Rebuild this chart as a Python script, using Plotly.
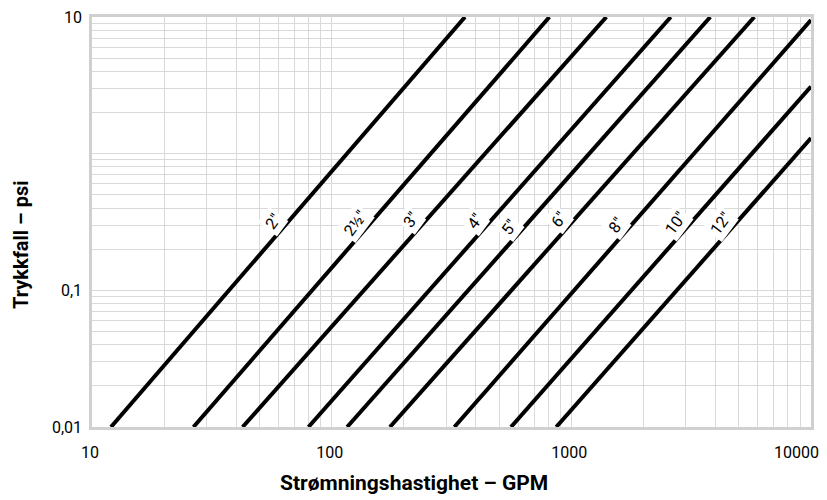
import numpy as np
import plotly.graph_objects as go

# Pipe sizes and line endpoints (flow GPM, pressure drop psi)
sizes = ['2"', '2½"', '3"', '4"', '5"', '6"', '8"', '10"', '12"']
flow_start = [12, 26.5, 42.5, 80, 116, 175, 325, 560, 865]
dp_start = [0.01, 0.01, 0.01, 0.01, 0.01, 0.01, 0.01, 0.01, 0.01]
flow_end = [360, 810, 1400, 2600, 3800, 5800, 10000, 10000, 10000]
dp_end = [10, 10, 10, 10, 10, 10, 9.5, 3.1, 1.3]
label_dp = [0.33, 0.32, 0.34, 0.33, 0.30, 0.34, 0.31, 0.32, 0.32]

x_gridvals = [v * m for m in (10, 100, 1000) for v in range(1, 10)] + [10000]
x_label_ticks = [10, 100, 1000]
x_label_text = ["10", "100", "1000"]
x_last_tick = [10000]
x_last_text = ["10000"]
y_tickvals = [round(v * m, 4) for m in (0.01, 0.1, 1) for v in range(1, 10)] + [10]
y_labels = {0.01: "0,01", 0.1: "0,1", 10: "10"}
y_ticktext = [y_labels.get(v, "") for v in y_tickvals]

x_title = "Strømningshastighet – GPM"
y_title = "Trykkfall – psi"

FONT = "Roboto, Arial, sans-serif"

fig = go.Figure()
for i, name in enumerate(sizes):
    fig.add_trace(go.Scatter(
        x=[flow_start[i], flow_end[i]], y=[dp_start[i], dp_end[i]],
        mode="lines", line=dict(color="black", width=4), name=name,
        showlegend=False, hoverinfo="skip"))
    lx0, lx1 = np.log10(flow_start[i]), np.log10(flow_end[i])
    ly0, ly1 = np.log10(dp_start[i]), np.log10(dp_end[i])
    ly = np.log10(label_dp[i])
    lx = lx0 + (ly - ly0) * (lx1 - lx0) / (ly1 - ly0)
    fig.add_annotation(
        x=lx, y=ly, xref="x", yref="y", text=name, showarrow=False,
        textangle=-53, xshift=-17, yshift=-2, bgcolor="white", borderpad=2,
        font=dict(family=FONT, size=16, color="black"))

# empty traces so the overlay axes carrying the x labels are drawn
for ax in ("x2", "x3"):
    fig.add_trace(go.Scatter(x=[], y=[], xaxis=ax, yaxis="y",
                             showlegend=False, hoverinfo="skip"))

# axis titles (placed off-centre as in the original)
fig.add_annotation(xref="paper", yref="paper", x=0.4475, y=0, yanchor="middle",
                   yshift=-56, text="<b>" + x_title + "</b>", showarrow=False,
                   font=dict(family=FONT, size=21, color="black"))
fig.add_annotation(xref="paper", yref="paper", x=0, y=0.444, xanchor="center",
                   xshift=-71, textangle=-90, text="<b>" + y_title + "</b>",
                   showarrow=False,
                   font=dict(family=FONT, size=20, color="black"))

grid = "#d9d9d9"
tickfont = dict(family=FONT, size=16, color="black")
label_axis = dict(type="log", range=[1, 4], overlaying="x", anchor="y",
                  side="bottom", showgrid=False, showline=False,
                  zeroline=False, ticks="", ticklabelstandoff=14,
                  ticklabeloverflow="allow", tickfont=tickfont)
fig.update_layout(
    xaxis=dict(
        type="log", range=[1, 4], tickvals=x_gridvals, showticklabels=False,
        showgrid=True, gridcolor=grid, gridwidth=1,
        showline=True, linecolor="#d0d0d0", linewidth=2.5, mirror=True,
        ticks="", zeroline=False),
    xaxis2=dict(label_axis, tickvals=x_label_ticks, ticktext=x_label_text,
                ticklabelshift=-2),
    xaxis3=dict(label_axis, tickvals=x_last_tick, ticktext=x_last_text,
                ticklabelposition="outside left", ticklabelshift=8),
    yaxis=dict(
        type="log", range=[-2, 1], tickvals=y_tickvals, ticktext=y_ticktext,
        showgrid=True, gridcolor=grid, gridwidth=1,
        showline=True, linecolor="#d0d0d0", linewidth=2.5, mirror=True,
        ticks="outside", ticklen=4, tickcolor="rgba(0,0,0,0)",
        ticklabeloverflow="allow",
        tickfont=tickfont, zeroline=False),
)

# page body has an 8px margin, so the figure is sized to fit the window
fig.update_layout(
    width=819, height=492,
    margin=dict(l=84, r=16, t=9, b=73, autoexpand=False),
    plot_bgcolor="white", paper_bgcolor="white",
    font=dict(family=FONT))

fig.write_html("out.html")
